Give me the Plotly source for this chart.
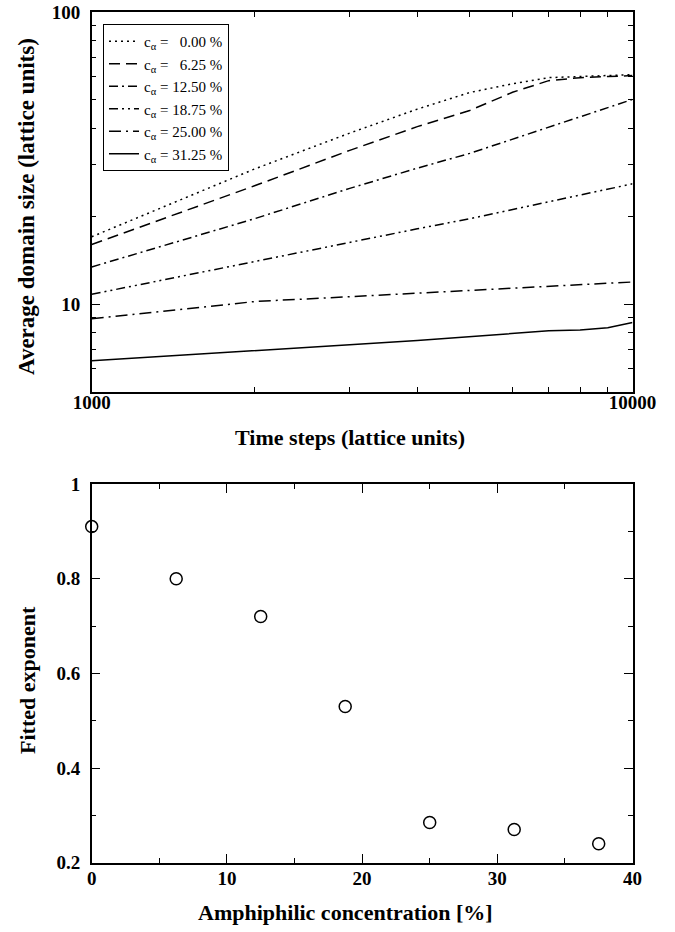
import plotly.graph_objects as go

# ---- data ----
time_steps = [1000, 2000, 3000, 4000, 5000, 6000, 7000, 8000, 9000, 10000]
conc_labels = ["0.00", "6.25", "12.50", "18.75", "25.00", "31.25"]
size_c000 = [17.0, 29.0, 38.5, 46.5, 53.0, 56.8, 59.6, 60.3, 60.6, 61.0]
size_c625 = [16.0, 25.4, 33.6, 40.5, 46.0, 53.1, 58.2, 59.6, 60.1, 60.6]
size_c1250 = [13.4, 19.6, 24.9, 29.2, 32.8, 36.7, 40.5, 44.0, 47.2, 50.2]
size_c1875 = [10.8, 14.0, 16.3, 18.1, 19.6, 21.1, 22.4, 23.7, 24.8, 25.8]
size_c2500 = [8.9, 10.2, 10.6, 10.9, 11.1, 11.3, 11.45, 11.6, 11.75, 11.9]
size_c3125 = [6.4, 6.9, 7.25, 7.5, 7.75, 7.95, 8.1, 8.15, 8.3, 8.65]

amph_conc = [0.0, 6.25, 12.5, 18.75, 25.0, 31.25, 37.5]
fitted_exp = [0.91, 0.80, 0.72, 0.53, 0.285, 0.27, 0.24]

# ---- styling ----
W, H = 675, 932
FONT = "Liberation Serif"
dashes = ["2px,4px", "11px,6px", "9px,4px,2px,4px", "9px,4px,2px,4px,2px,4px",
          "12px,5px,2px,5px", "solid"]
series = [size_c000, size_c625, size_c1250, size_c1875, size_c2500, size_c3125]

fig = go.Figure()
for lab, ys, d in zip(conc_labels, series, dashes):
    pad = "\u2007" if len(lab) == 4 else ""
    fig.add_trace(go.Scatter(
        x=time_steps, y=ys, mode="lines",
        name=f"c<sub>α</sub> = {pad}{lab} %",
        line=dict(color="black", width=1.5, dash=d),
        xaxis="x", yaxis="y", legendgroup=lab,
    ))

fig.add_trace(go.Scatter(
    x=amph_conc, y=fitted_exp, mode="markers", showlegend=False,
    marker=dict(symbol="circle-open", size=12, color="black",
                line=dict(width=1.5, color="black")),
    xaxis="x2", yaxis="y2", cliponaxis=False,
))

def fx(px):
    return px / W

def fy(py):
    return 1 - py / H

def px_x(a, b):
    return [fx(a), fx(b)]

def px_y(top, bottom):
    return [fy(bottom), fy(top)]

tickfont = dict(family=FONT, size=19, color="black", weight="bold")
titlefont = dict(family=FONT, size=22, color="black", weight="bold")

common = dict(
    showline=True, linecolor="black", linewidth=1.5, mirror="ticks",
    ticks="inside", ticklen=9, tickwidth=1, tickcolor="black",
    showgrid=False, zeroline=False, tickfont=tickfont, automargin=False,
    ticklabeloverflow="allow",
)
minor_style = dict(ticks="inside", ticklen=5, tickcolor="black", tickwidth=1)

log_minor_x = [2000, 3000, 4000, 5000, 6000, 7000, 8000, 9000]
log_minor_y = [6, 7, 8, 9, 20, 30, 40, 50, 60, 70, 80, 90]

fig.update_layout(
    width=W, height=H,
    margin=dict(l=0, r=0, t=0, b=0),
    paper_bgcolor="white", plot_bgcolor="white",
    showlegend=True,
    legend=dict(
        x=fx(103), y=fy(24), xanchor="left", yanchor="top",
        bgcolor="white", bordercolor="black", borderwidth=1,
        font=dict(family=FONT, size=15, color="black"),
        tracegroupgap=0, itemwidth=30,
    ),
    xaxis=dict(
        common, type="log", range=[3, 4], domain=px_x(91.7, 632.5),
        anchor="y", tickvals=[1000, 10000], ticktext=["1000", "10000"],
        minor=dict(minor_style, tickvals=log_minor_x),
        ticklabelstandoff=-8,
    ),
    yaxis=dict(
        common, type="log", range=[0.69897, 2], domain=px_y(12, 392),
        anchor="x", tickvals=[10, 100], ticktext=["10", "100"],
        minor=dict(minor_style, tickvals=log_minor_y),
        ticklabelstandoff=6,
    ),
    xaxis2=dict(
        common, range=[0, 40], domain=px_x(91.7, 632.5), anchor="y2",
        tickvals=[0, 10, 20, 30, 40],
        minor=dict(minor_style, tickvals=[5, 15, 25, 35]),
        ticklabelstandoff=-2,
    ),
    yaxis2=dict(
        common, range=[0.2, 1], domain=px_y(484, 862.7), anchor="x2",
        tickvals=[0.2, 0.4, 0.6, 0.8, 1.0], ticktext=["0.2", "0.4", "0.6", "0.8", "1"],
        minor=dict(minor_style, tickvals=[0.3, 0.5, 0.7, 0.9]),
        ticklabelstandoff=6,
    ),
)

titles = [
    ("Time steps (lattice units)", 350, 437, 0, 22),
    ("Average domain size (lattice units)", 26, 207, -90, 23),
    ("Amphiphilic concentration [%]", 345, 912, 0, 22),
    ("Fitted exponent", 27, 680, -90, 22),
]
for text, cx, cy, ang, sz in titles:
    fig.add_annotation(
        text=text, x=fx(cx), y=fy(cy), xref="paper", yref="paper",
        xanchor="center", yanchor="middle", showarrow=False, textangle=ang,
        font=dict(titlefont, size=sz),
    )

# remove the browser's default body margin so the figure fills the window
fig.write_html("out.html", config={"displayModeBar": False},
               post_script="document.body.style.margin='0px';")
